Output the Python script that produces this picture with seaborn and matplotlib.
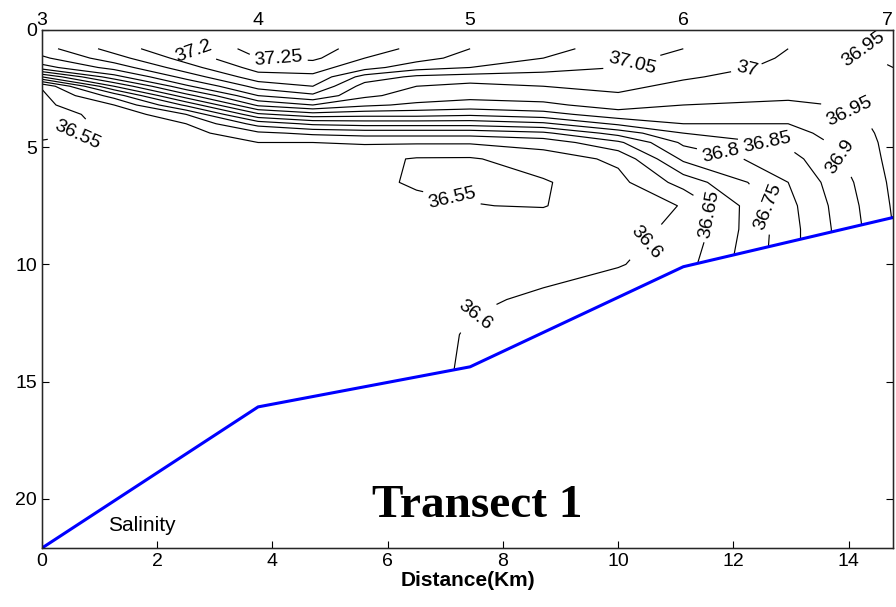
import numpy as np
import seaborn as sns
import matplotlib.pyplot as plt
from matplotlib.patches import Polygon

# estacoes do transecto: distancia (km), rotulo e profundidade do fundo (m)
station_km = [0, 3.75, 7.43, 11.13, 14.77]
station_lbl = ['3', '4', '5', '6', '7']
bottom_depth = [22.1, 16.08, 14.37, 10.1, 8.0]

# grade de salinidade: colunas em distancia (km), linhas em profundidade (m)
dist = [0, 1.25, 2.5, 3.75, 4.7, 5.6, 6.5, 7.43, 8.7, 10.0, 11.13, 12.95, 14.77]
depth = [0.8, 1.2, 1.6, 2.0, 2.4, 2.8, 3.2, 3.6, 4.0, 4.4, 4.8,
         5.5, 6.5, 7.5, 8.5, 10, 11.5, 13, 15, 17, 19, 22.2]

s_00 = [37.03, 36.99, 36.93, 36.75, 36.555, 36.54, 36.538, 36.538, 36.54, 36.544, 36.552,
        36.56, 36.565, 36.57, 36.57, 36.57, 36.57, 36.57, 36.57, 36.57, 36.57, 36.57]
s_01 = [37.12, 37.08, 37.02, 36.93, 36.8, 36.67, 36.6, 36.56, 36.555, 36.553, 36.558,
        36.56, 36.565, 36.57, 36.57, 36.57, 36.57, 36.57, 36.57, 36.57, 36.57, 36.57]
s_02 = [37.2, 37.17, 37.13, 37.07, 36.99, 36.88, 36.76, 36.65, 36.6, 36.58, 36.57,
        36.565, 36.565, 36.57, 36.57, 36.57, 36.57, 36.57, 36.57, 36.57, 36.57, 36.57]
s_03 = [37.27, 37.25, 37.22, 37.18, 37.12, 37.05, 36.96, 36.84, 36.72, 36.64, 36.6,
        36.575, 36.565, 36.57, 36.57, 36.57, 36.57, 36.57, 36.57, 36.57, 36.57, 36.57]
s_04 = [37.28, 37.26, 37.22, 37.19, 37.15, 37.09, 37.0, 36.88, 36.76, 36.66, 36.6,
        36.575, 36.565, 36.565, 36.57, 36.57, 36.57, 36.57, 36.57, 36.57, 36.57, 36.57]
s_05 = [37.22, 37.2, 37.17, 37.08, 37.03, 37.01, 36.96, 36.87, 36.77, 36.67, 36.605,
        36.565, 36.56, 36.565, 36.57, 36.57, 36.57, 36.57, 36.57, 36.57, 36.57, 36.57]
s_06 = [37.19, 37.17, 37.12, 37.04, 37.0, 36.98, 36.94, 36.87, 36.77, 36.67, 36.605,
        36.546, 36.545, 36.56, 36.565, 36.57, 36.575, 36.58, 36.58, 36.58, 36.58, 36.58]
s_07 = [37.15, 37.13, 37.1, 37.03, 36.985, 36.965, 36.93, 36.86, 36.77, 36.67, 36.605,
        36.545, 36.544, 36.551, 36.565, 36.58, 36.595, 36.605, 36.61, 36.61, 36.61, 36.61]
s_08 = [37.115, 37.1, 37.07, 37.03, 37.0, 36.97, 36.94, 36.88, 36.79, 36.69, 36.62,
        36.575, 36.545, 36.548, 36.575, 36.59, 36.605, 36.615, 36.62, 36.62, 36.62, 36.62]
s_09 = [37.08, 37.065, 37.05, 37.03, 37.01, 36.995, 36.97, 36.93, 36.86, 36.77, 36.69,
        36.61, 36.585, 36.58, 36.585, 36.596, 36.64, 36.65, 36.65, 36.65, 36.65, 36.65]
s_10 = [37.05, 37.035, 37.02, 37.005, 36.99, 36.97, 36.95, 36.925, 36.9, 36.85, 36.81,
        36.76, 36.67, 36.602, 36.61, 36.63, 36.64, 36.64, 36.64, 36.64, 36.64, 36.64]
s_11 = [37.0, 36.995, 36.99, 36.98, 36.97, 36.96, 36.94, 36.92, 36.9, 36.88, 36.86,
        36.83, 36.8, 36.785, 36.78, 36.78, 36.78, 36.78, 36.78, 36.78, 36.78, 36.78]
s_12 = [36.93, 36.94, 36.95, 36.96, 36.965, 36.965, 36.965, 36.965, 36.965, 36.965, 36.965,
        36.965, 36.96, 36.955, 36.95, 36.95, 36.95, 36.95, 36.95, 36.95, 36.95, 36.95]

levels = [36.55, 36.6, 36.65, 36.7, 36.75, 36.8, 36.85, 36.9, 36.95,
          37.0, 37.05, 37.1, 37.15, 37.2, 37.25]

# posicoes aproximadas dos rotulos das isolinhas
label_pos = [(2.6, 1.1), (4.1, 1.3), (10.2, 1.1), (12.2, 1.3), (14.2, 0.9),
             (0.6, 4.4), (7.1, 7.3), (13.95, 3.9), (13.8, 5.5), (12.6, 4.6),
             (11.8, 5.0), (12.7, 7.5), (11.7, 7.9), (10.55, 9.2), (7.4, 11.6)]

sns.set_style('ticks')
plt.rcParams['font.family'] = ['Liberation Sans Narrow', 'Liberation Sans', 'DejaVu Sans']
plt.rcParams.update({'text.color': 'black', 'axes.labelcolor': 'black',
                     'xtick.color': 'black', 'ytick.color': 'black'})

fig = plt.figure(figsize=(8.96, 6.07), dpi=100)
ax = fig.add_axes([0.0469, 0.0972, 0.9498, 0.8534])

X, Y = np.meshgrid(dist, depth)
Z = np.column_stack([s_00, s_01, s_02, s_03, s_04, s_05, s_06, s_07,
                     s_08, s_09, s_10, s_11, s_12])

cs = ax.contour(X, Y, Z, levels=levels, colors='k', linewidths=0.85)

# recorta as isolinhas acima do fundo
water = [(0, 0), (station_km[-1], 0)] + list(zip(station_km[::-1], bottom_depth[::-1]))
clip = Polygon(water, closed=True, transform=ax.transData, facecolor='none', edgecolor='none')
cs.set_clip_path(clip)
ax.clabel(cs, manual=label_pos, inline=True, fontsize=14, fmt=lambda v: f'{v:g}')

sns.lineplot(x=station_km, y=bottom_depth, color='blue', linewidth=2.2, sort=False, ax=ax)

ax.set_xlim(0, 14.77)
ax.set_ylim(22.1, 0)
ax.set_xticks(range(0, 15, 2))
ax.set_yticks(range(0, 21, 5))
ax.tick_params(direction='in', top=True, right=True, length=5, labelsize=14)
for sp in ax.spines.values():
    sp.set_color('black')
    sp.set_linewidth(1)
ax.set_xlabel('Distance(Km)', fontsize=15, fontweight='bold', labelpad=1)

# numeros das estacoes no topo
ax2 = ax.twiny()
ax2.set_xlim(ax.get_xlim())
ax2.set_xticks(station_km, station_lbl)
ax2.tick_params(length=0, pad=1, labelsize=14)
ax2.get_xticklabels()[-1].set_ha('right')

ax.text(1.15, 21.15, 'Salinity', fontsize=15, ha='left', va='center')
ax.text(7.55, 20.3, 'Transect 1', fontsize=34, fontweight='bold', ha='center', va='center',
        family='Liberation Serif')

fig.savefig('out.png', dpi=100)
